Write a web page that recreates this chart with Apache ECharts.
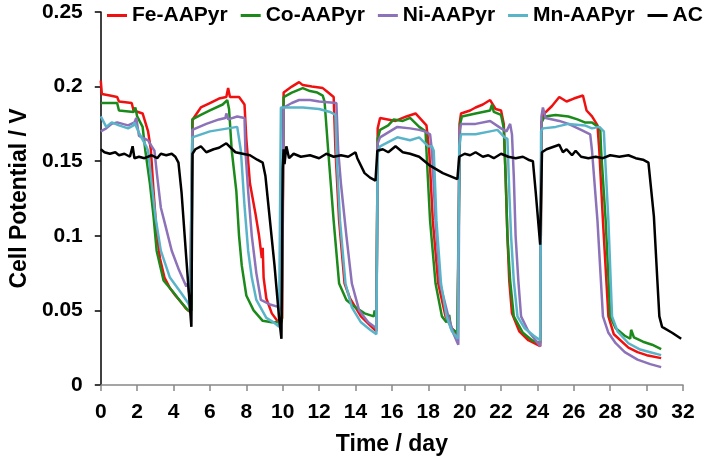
<!DOCTYPE html>
<html>
<head>
<meta charset="utf-8">
<script src="https://cdn.jsdelivr.net/npm/echarts@6/dist/echarts.min.js"></script>
<style>
  html, body { margin: 0; padding: 0; background: #fff; }
  #chart { width: 708px; height: 467px; }
</style>
</head>
<body>
<div id="chart"></div>
<script>
// [day, volts] pairs
const feData = [
  [0,0.204],[0.06,0.195],[0.5,0.194],[0.9,0.193],[1.0,0.19],[1.7,0.189],[1.8,0.184],[2.3,0.182],[2.4,0.178],[2.6,0.17],[2.75,0.158],[2.9,0.13],[3.05,0.105],[3.25,0.085],[3.5,0.072],[3.8,0.065],[4.1,0.06],[4.45,0.055],[4.7,0.051],[4.9,0.049],
  [5.0,0.05],[5.05,0.178],[5.5,0.186],[6.0,0.189],[6.5,0.192],[6.9,0.193],[7.0,0.199],[7.1,0.193],[7.6,0.193],[7.9,0.188],[8.0,0.165],[8.2,0.135],[8.5,0.115],[8.7,0.1],[8.85,0.085],[8.9,0.092],[8.95,0.072],[9.1,0.058],[9.4,0.048],[9.7,0.043],[9.9,0.041],
  [9.97,0.045],[10.05,0.196],[10.5,0.2],[10.9,0.203],[11.1,0.201],[11.6,0.2],[12.2,0.199],[12.5,0.196],[12.8,0.193],[12.9,0.157],[13.1,0.11],[13.4,0.068],[13.7,0.058],[14.3,0.046],[14.8,0.04],[15.15,0.036],
  [15.22,0.172],[15.35,0.179],[16.2,0.177],[16.8,0.18],[17.3,0.182],[17.6,0.178],[17.9,0.174],[18.05,0.157],[18.25,0.11],[18.55,0.068],[18.95,0.046],[19.3,0.038],[19.6,0.034],
  [19.72,0.175],[19.8,0.182],[20.3,0.184],[20.6,0.186],[21.0,0.188],[21.4,0.191],[21.7,0.185],[22.0,0.184],[22.15,0.175],[22.25,0.14],[22.35,0.1],[22.45,0.07],[22.6,0.048],[23.0,0.036],[23.5,0.03],[24.15,0.026],
  [24.22,0.175],[24.3,0.181],[24.8,0.187],[25.2,0.193],[25.6,0.19],[26.0,0.192],[26.5,0.194],[26.7,0.184],[27.0,0.18],[27.3,0.174],[27.4,0.157],[27.6,0.11],[27.9,0.046],[28.2,0.034],[29.0,0.025],[29.5,0.022],[30.0,0.02],[30.8,0.018]
];
const coData = [
  [0,0.189],[0.5,0.189],[0.9,0.189],[1.0,0.184],[1.8,0.183],[1.9,0.186],[2.0,0.18],[2.3,0.173],[2.45,0.157],[2.7,0.135],[2.9,0.113],[3.07,0.09],[3.45,0.07],[4.0,0.062],[4.45,0.055],[4.8,0.05],
  [4.98,0.05],[5.03,0.178],[5.5,0.181],[6.0,0.184],[6.7,0.188],[6.95,0.191],[7.05,0.185],[7.2,0.157],[7.45,0.13],[7.6,0.1],[7.75,0.08],[8.0,0.06],[8.4,0.05],[8.9,0.043],[9.4,0.042],[9.75,0.042],
  [9.95,0.043],[10.05,0.193],[10.5,0.196],[10.9,0.198],[11.1,0.199],[11.5,0.197],[11.9,0.196],[12.2,0.194],[12.3,0.19],[12.5,0.157],[12.8,0.11],[13.1,0.068],[13.5,0.057],[14.0,0.052],[14.5,0.048],[15.0,0.046],[15.05,0.05],[15.15,0.045],
  [15.22,0.165],[15.35,0.171],[15.8,0.174],[16.1,0.178],[16.6,0.177],[17.0,0.179],[17.5,0.173],[17.85,0.17],[17.9,0.157],[18.1,0.11],[18.4,0.068],[18.75,0.046],[19.0,0.042],[19.15,0.047],[19.25,0.038],[19.6,0.035],
  [19.75,0.175],[19.85,0.18],[20.6,0.182],[21.4,0.184],[21.5,0.188],[21.6,0.183],[22.0,0.181],[22.15,0.172],[22.25,0.14],[22.35,0.1],[22.5,0.07],[22.7,0.046],[23.2,0.035],[23.7,0.03],[24.15,0.028],
  [24.22,0.176],[24.4,0.18],[25.0,0.181],[25.7,0.18],[26.2,0.178],[26.6,0.176],[27.0,0.176],[27.45,0.172],[27.5,0.157],[27.75,0.11],[28.0,0.046],[28.3,0.038],[28.8,0.033],[29.1,0.031],[29.15,0.037],[29.3,0.032],[29.8,0.029],[30.3,0.027],[30.8,0.024]
];
const niData = [
  [0,0.17],[0.3,0.172],[0.6,0.175],[0.9,0.176],[1.5,0.174],[1.85,0.176],[1.95,0.179],[2.1,0.167],[2.6,0.164],[2.8,0.16],[2.95,0.157],[3.1,0.14],[3.3,0.119],[3.55,0.107],[3.9,0.09],[4.3,0.077],[4.7,0.066],[4.78,0.068],[4.85,0.062],
  [4.98,0.062],[5.03,0.171],[5.8,0.175],[6.5,0.178],[6.85,0.179],[6.9,0.182],[7.0,0.178],[7.5,0.18],[7.9,0.179],[7.95,0.157],[8.1,0.13],[8.3,0.1],[8.55,0.075],[8.8,0.057],[9.3,0.054],[9.85,0.052],
  [9.95,0.05],[10.05,0.186],[10.5,0.189],[10.9,0.191],[11.5,0.191],[12.0,0.19],[12.95,0.189],[13.05,0.157],[13.2,0.135],[13.5,0.1],[13.8,0.068],[14.2,0.05],[14.7,0.042],[15.15,0.038],
  [15.22,0.162],[15.35,0.166],[16.3,0.173],[17.0,0.172],[17.5,0.171],[17.8,0.17],[18.1,0.168],[18.2,0.157],[18.4,0.11],[18.65,0.068],[19.1,0.046],[19.4,0.034],[19.65,0.027],
  [19.72,0.17],[19.8,0.175],[20.6,0.175],[21.4,0.177],[22.0,0.172],[22.3,0.17],[22.5,0.175],[22.6,0.168],[22.7,0.14],[22.8,0.1],[22.95,0.07],[23.1,0.046],[23.5,0.036],[23.9,0.03],[24.15,0.026],
  [24.22,0.18],[24.3,0.186],[24.45,0.179],[25.2,0.177],[25.7,0.175],[26.4,0.171],[26.9,0.168],[27.0,0.157],[27.3,0.11],[27.6,0.046],[27.9,0.035],[28.3,0.028],[28.8,0.022],[29.5,0.017],[30.2,0.014],[30.8,0.012]
];
const mnData = [
  [0,0.18],[0.3,0.173],[0.6,0.176],[1.0,0.174],[1.5,0.172],[1.8,0.174],[1.85,0.176],[2.1,0.169],[2.5,0.16],[2.6,0.157],[2.8,0.135],[3.0,0.113],[3.3,0.09],[3.8,0.072],[4.4,0.062],[4.8,0.055],[4.9,0.052],
  [4.98,0.052],[5.03,0.166],[6.0,0.17],[7.0,0.172],[7.5,0.173],[7.6,0.172],[7.7,0.157],[7.9,0.12],[8.1,0.09],[8.3,0.072],[8.55,0.057],[9.1,0.045],[9.5,0.042],[9.8,0.039],
  [9.85,0.04],[9.9,0.186],[11.1,0.186],[12.0,0.185],[12.6,0.183],[12.9,0.181],[12.95,0.157],[13.15,0.11],[13.45,0.068],[13.8,0.052],[14.3,0.042],[14.8,0.037],[15.15,0.034],
  [15.22,0.155],[15.35,0.16],[16.3,0.166],[17.0,0.164],[17.5,0.166],[18.0,0.16],[18.2,0.16],[18.3,0.157],[18.45,0.11],[18.7,0.068],[19.0,0.046],[19.3,0.036],[19.62,0.031],
  [19.7,0.16],[19.8,0.168],[20.6,0.168],[21.4,0.17],[21.8,0.171],[22.2,0.166],[22.35,0.165],[22.45,0.13],[22.55,0.1],[22.7,0.07],[22.9,0.046],[23.3,0.038],[23.8,0.033],[24.15,0.03],
  [24.2,0.17],[24.3,0.172],[25.0,0.173],[25.7,0.175],[26.6,0.174],[27.0,0.172],[27.4,0.173],[27.65,0.17],[27.7,0.157],[27.9,0.11],[28.1,0.046],[28.4,0.036],[29.0,0.028],[29.6,0.024],[30.2,0.022],[30.8,0.02]
];
const acData = [
  [0,0.158],[0.2,0.156],[0.5,0.155],[0.8,0.156],[1.0,0.154],[1.3,0.155],[1.6,0.153],[1.75,0.16],[1.85,0.152],[2.1,0.153],[2.4,0.152],[2.8,0.154],[3.1,0.152],[3.3,0.155],[3.6,0.154],[3.9,0.155],[4.1,0.153],[4.27,0.149],[4.44,0.129],[4.7,0.085],[4.98,0.039],
  [5.04,0.155],[5.2,0.158],[5.5,0.16],[5.8,0.156],[6.2,0.158],[6.5,0.159],[6.9,0.162],[7.4,0.156],[7.8,0.155],[8.2,0.154],[8.6,0.151],[8.9,0.149],[9.05,0.14],[9.3,0.11],[9.55,0.08],[9.8,0.045],[9.93,0.031],
  [10.0,0.145],[10.05,0.158],[10.1,0.148],[10.2,0.16],[10.35,0.152],[10.6,0.155],[11.0,0.153],[11.5,0.154],[12.0,0.152],[12.4,0.155],[12.8,0.153],[13.2,0.154],[13.6,0.153],[14.0,0.156],[14.1,0.152],[14.5,0.142],[14.8,0.139],[15.1,0.137],
  [15.2,0.157],[15.5,0.158],[15.8,0.156],[16.2,0.16],[16.6,0.156],[17.0,0.155],[17.5,0.153],[18.1,0.147],[18.8,0.142],[19.2,0.14],[19.6,0.138],
  [19.7,0.153],[20.0,0.155],[20.3,0.154],[20.6,0.156],[21.0,0.153],[21.3,0.154],[21.6,0.152],[22.0,0.155],[22.4,0.153],[22.8,0.152],[23.2,0.153],[23.5,0.151],[23.75,0.15],[23.9,0.13],[24.15,0.094],
  [24.25,0.156],[24.5,0.158],[25.2,0.161],[25.4,0.156],[25.6,0.158],[25.9,0.154],[26.1,0.157],[26.4,0.153],[26.8,0.152],[27.2,0.153],[27.6,0.152],[28.0,0.154],[28.5,0.153],[29.0,0.154],[29.4,0.152],[29.8,0.151],[30.1,0.149],[30.4,0.113],[30.6,0.068],[30.7,0.046],[30.85,0.039],[31.4,0.035],[31.9,0.031]
];

const seriesNames = ['Fe-AAPyr', 'Co-AAPyr', 'Ni-AAPyr', 'Mn-AAPyr', 'AC'];
const seriesColors = ['#f01010', '#1b8a1b', '#8c72b8', '#5ab4c9', '#000000'];
const seriesData = [feData, coData, niData, mnData, acData];

const font = '"Liberation Sans", Arial, sans-serif';

const chart = echarts.init(document.getElementById('chart'));
chart.setOption({
  animation: false,
  backgroundColor: '#fff',
  textStyle: { fontFamily: font },
  legend: {
    data: seriesNames,
    left: 102,
    top: 0,
    width: 640,
    icon: 'rect',
    itemWidth: 20,
    itemHeight: 3,
    itemGap: 13,
    textStyle: { fontSize: 21, fontWeight: 'bold', color: '#000', fontFamily: font }
  },
  grid: { left: 97, right: 25, top: 12, bottom: 82 },
  xAxis: {
    type: 'value',
    min: 0,
    max: 32,
    interval: 2,
    name: 'Time / day',
    nameLocation: 'middle',
    nameGap: 48,
    nameTextStyle: { fontSize: 23, fontWeight: 'bold', color: '#000', fontFamily: font },
    axisLine: { show: true, lineStyle: { color: '#888', width: 1.5 } },
    axisTick: { show: true, length: 6, lineStyle: { color: '#888', width: 1.5 } },
    axisLabel: { fontSize: 21, fontWeight: 'bold', color: '#000', margin: 17, fontFamily: font },
    splitLine: { show: false }
  },
  yAxis: {
    type: 'value',
    min: 0,
    max: 0.25,
    interval: 0.05,
    name: 'Cell Potential / V',
    nameLocation: 'middle',
    nameGap: 66,
    nameTextStyle: { fontSize: 23, fontWeight: 'bold', color: '#000', fontFamily: font },
    axisLine: { show: true, lineStyle: { color: '#000', width: 1.5 } },
    axisTick: { show: true, length: 6, lineStyle: { color: '#000', width: 1.5 } },
    axisLabel: { fontSize: 21, fontWeight: 'bold', color: '#000', margin: 18, fontFamily: font },
    splitLine: { show: false }
  },
  series: seriesNames.map((name, i) => ({
    name: name,
    type: 'line',
    data: seriesData[i],
    showSymbol: false,
    color: seriesColors[i],
    lineStyle: { width: 2.5, color: seriesColors[i] }
  }))
});
</script>
</body>
</html>
